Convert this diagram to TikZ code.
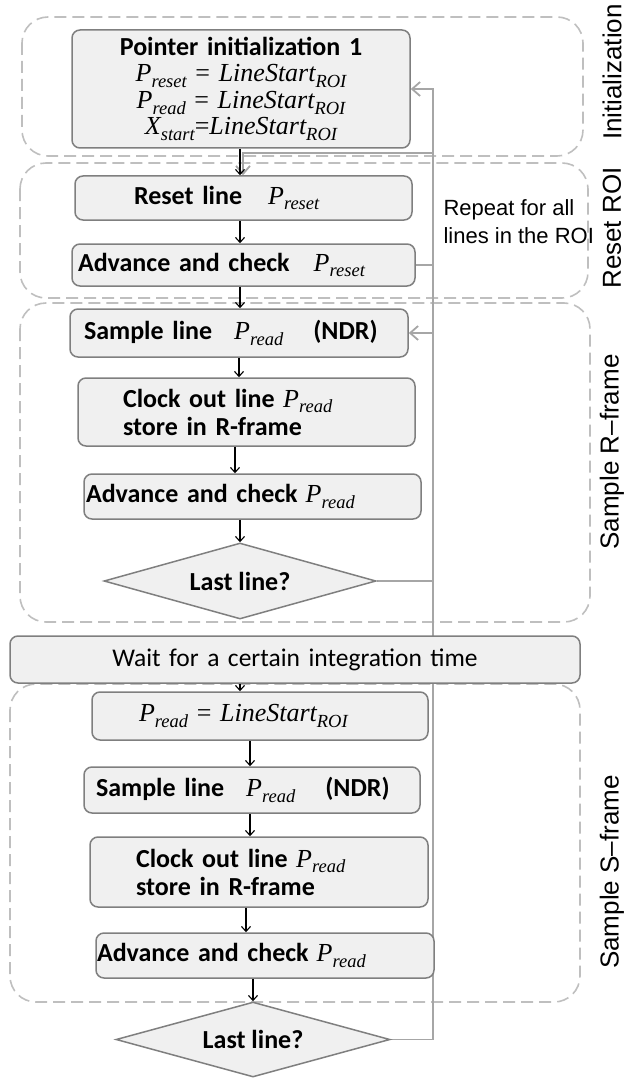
\documentclass[tikz,border=0pt]{standalone}
\usepackage{fontspec}
\setmainfont{Carlito}
\newfontfamily\labelfont{Liberation Sans}
\newfontfamily\mfont{Liberation Serif}
\usetikzlibrary{arrows.meta,shapes.geometric,backgrounds}

\definecolor{boxfill}{HTML}{F0F0F0}
\definecolor{boxline}{HTML}{7F7F7F}
\definecolor{framegray}{HTML}{BFBFBF}
\definecolor{loopgray}{HTML}{A6A6A6}

% pointer variable with an italic subscript
\newcommand\pv[2]{{\mfont\mdseries\itshape #1}\raisebox{-0.22em}{\mfont\mdseries\itshape\fontsize{18.5}{18.5}\selectfont #2}}
\newcommand\eqs{{\mfont\mdseries\ =\ }}
\newcommand\eqn{{\mfont\mdseries =}}

\begin{document}
\begin{tikzpicture}[x=1pt,y=-1pt,
  box/.style={draw=boxline, fill=boxfill, line width=1.5pt, rounded corners=8pt,
    inner ysep=0pt, align=left, font=\fontsize{26}{28}\selectfont\bfseries},
  dec/.style={diamond, draw=boxline, fill=boxfill, line width=1.5pt, inner sep=0pt,
    aspect=3.6, font=\fontsize{26}{28}\selectfont\bfseries},
  grp/.style={draw=framegray, line width=1.6pt, dash pattern=on 12pt off 6pt,
    rounded corners=26pt},
  side/.style={rotate=90, font=\labelfont\fontsize{26}{28}\selectfont},
  blk/.style={-{Straight Barb[length=5pt,width=9pt]}, line width=1.1pt},
  back/.style={draw=loopgray, line width=1.8pt},
  backarr/.style={back, -{Straight Barb[length=8pt,width=14pt]}}
]
\useasboundingbox (0,0) rectangle (630,1078);

% phase names
\node[side] (lInit) at (612,72) {Initialization};
\node[side] (lReset) at (612,228) {Reset ROI};
\node[side] (lSampR) at (612,452) {Sample R–frame};
\node[side] (lSampS) at (612,872) {Sample S–frame};

% initialization
\node[box, align=center, text width=318pt, inner xsep=10pt, minimum height=118pt,
  font=\fontsize{26}{26.5}\selectfont\bfseries] (init) at (241,89)
  {Pointer initialization 1\\
   \pv{P}{reset}\eqs\pv{LineStart}{ROI}\\
   \pv{P}{read}\eqs\pv{LineStart}{ROI}\\
   \pv{X}{start}\eqn\pv{LineStart}{ROI}};

% reset ROI
\node[box, text width=219pt, inner xsep=59pt, minimum height=44pt] (rl) at (243.5,198)
  {Reset line\hspace{26pt}\pv{P}{reset}};
\node[box, text width=331pt, inner xsep=6pt, minimum height=42pt] (ar) at (243.5,265)
  {Advance and check\hspace{24pt}\pv{P}{reset}};
\node[font=\labelfont\fontsize{22}{28}\selectfont, align=left, anchor=west] (rep) at (440,222)
  {Repeat for all\\lines in the ROI};

% sample R-frame
\node[box, text width=310pt, inner xsep=14pt, minimum height=48pt] (sr) at (239,333)
  {Sample line\hspace{22pt}\pv{P}{read}\hspace{30pt}(NDR)};
\node[box, text width=247pt, inner xsep=45pt, minimum height=68pt] (cr) at (246.5,412)
  {Clock out line \pv{P}{read}\\store in R-frame};
\node[box, text width=333pt, inner xsep=2pt, minimum height=45pt] (adr) at (252.5,496.5)
  {Advance and check\hspace{8pt}\pv{P}{read}};
\node[dec, minimum width=272pt, minimum height=76pt] (dr) at (240,581) {Last line?};

% integration
\node[box, align=center, text width=550pt, inner xsep=10pt, minimum height=47pt,
  font=\fontsize{25.5}{28}\selectfont\mdseries] (wait) at (295,659.5)
  {Wait for a certain integration time};

% sample S-frame
\node[box, text width=242pt, inner xsep=47pt, minimum height=48pt] (ps) at (260,716)
  {\pv{P}{read}\eqs\pv{LineStart}{ROI}};
\node[box, text width=312pt, inner xsep=12pt, minimum height=46pt] (ss) at (252,790)
  {Sample line\hspace{22pt}\pv{P}{read}\hspace{30pt}(NDR)};
\node[box, text width=246pt, inner xsep=46pt, minimum height=70pt] (cs) at (259,872)
  {Clock out line \pv{P}{read}\\store in R-frame};
\node[box, text width=336pt, inner xsep=1pt, minimum height=45pt] (as) at (265,955.5)
  {Advance and check\hspace{8pt}\pv{P}{read}};
\node[dec, minimum width=274pt, minimum height=75pt] (ds) at (253,1039.5) {Last line?};

% columns of the forward arrows
\coordinate (c235) at (235,0);
\coordinate (c239) at (239,0);
\coordinate (c240) at (240,0);
\coordinate (c246) at (246,0);
\coordinate (c250) at (250,0);
\coordinate (c253) at (253,0);
\coordinate (bus) at (433,0);
\coordinate (loopTop) at (243,153);

\begin{pgfonlayer}{background}
  % dashed phase frames
  \draw[grp] (22,17) rectangle (583,156);
  \draw[grp] (20,163) rectangle (588,298);
  \draw[grp] (20,303) rectangle (590,622);
  \draw[grp] (10,684) rectangle (580,1002);
  % feedback lines, passing behind the boxes
  \draw[backarr] (ar.east) -| (bus |- loopTop) -- (loopTop) -- (rl.north -| loopTop);
  \draw[backarr] (dr.east) -| (bus |- sr.east) -- (sr.east);
  \draw[backarr] (ds.east) -| (bus |- init.east) -- (init.east);
\end{pgfonlayer}

% forward arrows
\draw[blk] (init.south -| c240) -- (rl.north -| c240);
\draw[blk] (rl.south -| c240) -- (ar.north -| c240);
\draw[blk] (ar.south -| c240) -- (sr.north -| c240);
\draw[blk] (sr.south -| c239) -- (cr.north -| c239);
\draw[blk] (cr.south -| c235) -- (adr.north -| c235);
\draw[blk] (adr.south -| c240) -- (dr.north -| c240);
\draw[blk] (wait.south -| c240) -- (ps.north -| c240);
\draw[blk] (ps.south -| c250) -- (ss.north -| c250);
\draw[blk] (ss.south -| c250) -- (cs.north -| c250);
\draw[blk] (cs.south -| c246) -- (as.north -| c246);
\draw[blk] (as.south -| c253) -- (ds.north -| c253);
\end{tikzpicture}
\end{document}
